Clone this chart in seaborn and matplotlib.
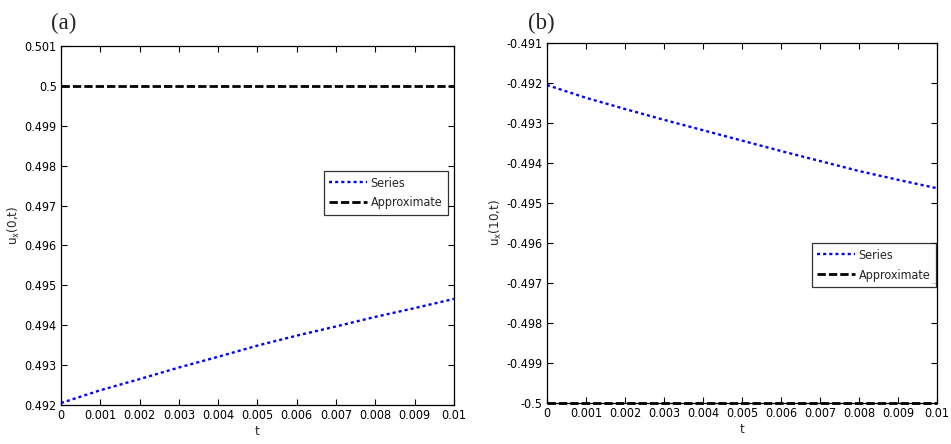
import numpy as np
import pandas as pd
import matplotlib
matplotlib.use("Agg")
import matplotlib.pyplot as plt
import seaborn as sns

# ---- data ----
t_values = [0.0, 0.001, 0.002, 0.003, 0.004, 0.005, 0.006, 0.007, 0.008, 0.009, 0.01]
series_a = [0.49205, 0.49237, 0.49265, 0.49294, 0.49321, 0.49349, 0.49374, 0.49397, 0.49421, 0.49443, 0.49466]
approx_a = [0.5, 0.5, 0.5, 0.5, 0.5, 0.5, 0.5, 0.5, 0.5, 0.5, 0.5]
series_b = [-0.49205, -0.49237, -0.49265, -0.49292, -0.49318, -0.49344, -0.49370, -0.49395, -0.49420, -0.49442, -0.49463]
approx_b = [-0.5, -0.5, -0.5, -0.5, -0.5, -0.5, -0.5, -0.5, -0.5, -0.5, -0.5]
xticks = [0, 0.001, 0.002, 0.003, 0.004, 0.005, 0.006, 0.007, 0.008, 0.009, 0.01]
xtick_labels = ["0", "0.001", "0.002", "0.003", "0.004", "0.005", "0.006", "0.007", "0.008", "0.009", "0.01"]
yticks_a = [0.492, 0.493, 0.494, 0.495, 0.496, 0.497, 0.498, 0.499, 0.5, 0.501]
ytick_labels_a = ["0.492", "0.493", "0.494", "0.495", "0.496", "0.497", "0.498", "0.499", "0.5", "0.501"]
yticks_b = [-0.5, -0.499, -0.498, -0.497, -0.496, -0.495, -0.494, -0.493, -0.492, -0.491]
ytick_labels_b = ["-0.5", "-0.499", "-0.498", "-0.497", "-0.496", "-0.495", "-0.494", "-0.493", "-0.492", "-0.491"]

sns.set_style("ticks")
plt.rcParams["font.family"] = ["DejaVu Sans"]
plt.rcParams["font.stretch"] = "condensed"
plt.rcParams["mathtext.fontset"] = "dejavusans"

fig = plt.figure(figsize=(9.51, 4.44), dpi=100)
ax_a = fig.add_axes([0.0641, 0.0878, 0.4133, 0.8086])
ax_b = fig.add_axes([0.5752, 0.0923, 0.4101, 0.8108])

panels = [
    (ax_a, series_a, approx_a, yticks_a, ytick_labels_a, r"u$_{\mathregular{x}}$(0,t)", "(a)", (0.985, 0.652), 51),
    (ax_b, series_b, approx_b, yticks_b, ytick_labels_b, r"u$_{\mathregular{x}}$(10,t)", "(b)", (0.997, 0.444), 528),
]

for ax, ser, apr, yt, ytl, ylab, tag, legpos, tagx in panels:
    df = pd.DataFrame({"t": t_values, "Series": ser, "Approximate": apr})
    sns.lineplot(data=df, x="t", y="Series", ax=ax, color="blue", lw=1.7,
                 label="Series")
    sns.lineplot(data=df, x="t", y="Approximate", ax=ax, color="black", lw=2.0,
                 label="Approximate")
    ax.lines[0].set_dashes((1.3, 1.3))
    ax.lines[1].set_dashes((3.0, 1.1))
    ax.lines[1].set_clip_on(False)
    ax.set_xlim(0, 0.01)
    ax.set_ylim(yt[0], yt[-1])
    ax.set_xticks(xticks)
    ax.set_xticklabels(xtick_labels)
    ax.set_yticks(yt)
    ax.set_yticklabels(ytl)
    ax.tick_params(direction="in", length=4, width=0.8, top=True, right=True,
                   labelsize=9, colors="black", pad=3)
    for sp in ax.spines.values():
        sp.set_visible(True)
        sp.set_linewidth(0.9)
        sp.set_color("black")
    ax.set_xlabel("t", fontsize=9.5, labelpad=2)
    ax.set_ylabel(ylab, fontsize=9.5, labelpad=2)
    leg = ax.legend(loc="upper right", bbox_to_anchor=legpos, fontsize=9,
                    frameon=True, fancybox=False, handlelength=3.0,
                    borderpad=0.45, labelspacing=0.55, handletextpad=0.3,
                    borderaxespad=0)
    leg.get_frame().set_edgecolor("black")
    leg.get_frame().set_linewidth(0.9)
    fig.text(tagx / 951, 1 - 29 / 444, tag, fontsize=16.5,
             family="Liberation Serif", stretch="normal", ha="left", va="baseline")

fig.savefig("out.png", dpi=100)
